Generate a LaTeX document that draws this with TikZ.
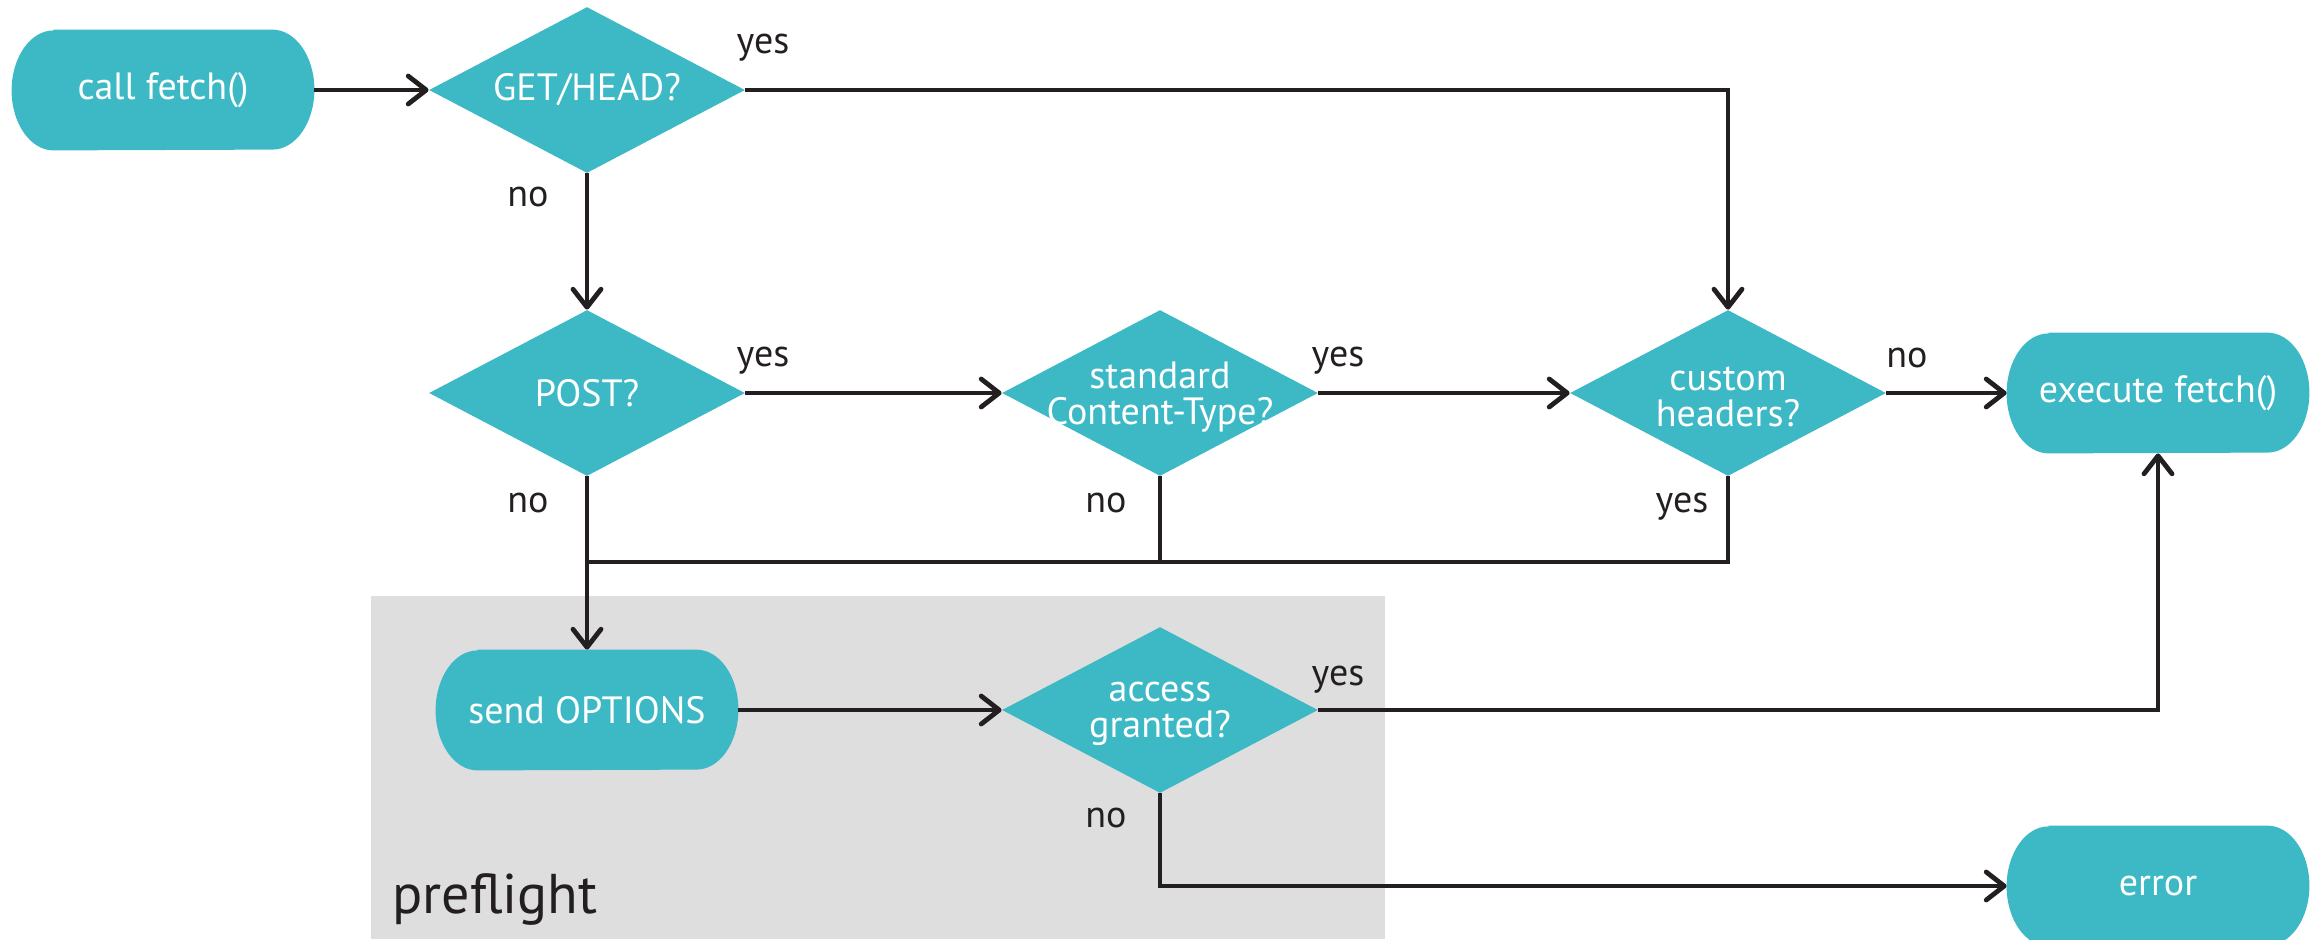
\documentclass[tikz,border=0pt]{standalone}
\usepackage{fontspec}
\setmainfont{PT Sans}
\usetikzlibrary{arrows.meta,shapes.geometric}
\definecolor{tealfill}{HTML}{3DB9C6}
\definecolor{greybg}{HTML}{DEDEDE}
\definecolor{ink}{HTML}{231F20}
\pgfdeclarelayer{bgzero}
\pgfdeclarelayer{bgone}
\pgfsetlayers{bgzero,bgone,main}
\newcommand{\termfill}[1]{%
  \begin{pgfonlayer}{bgone}
  \fill[tealfill] ([xshift=21pt]#1.north west) -- ([xshift=-21pt]#1.north east)
    arc[start angle=90,end angle=-90,x radius=21pt,y radius=30pt]
    -- ([xshift=21pt]#1.south west)
    arc[start angle=270,end angle=90,x radius=21pt,y radius=30pt] -- cycle;
  \end{pgfonlayer}}
\begin{document}
\begin{tikzpicture}[x=0.5pt,y=-0.5pt,
  term/.style={rectangle, minimum width=151pt, minimum height=60pt, inner sep=0pt,
    text=white, font=\fontsize{19}{18}\selectfont},
  dec/.style={diamond, fill=tealfill, minimum width=158pt, minimum height=83pt, inner sep=0pt},
  dtext/.style={text=white, align=center, font=\fontsize{19}{18}\selectfont, inner sep=0pt},
  lbl/.style={text=ink, font=\fontsize{19}{20}\selectfont, inner sep=0pt},
  conn/.style={draw=ink, line width=2.4pt, -{Straight Barb[length=9pt,width=14pt,round]}},
  wire/.style={draw=ink, line width=2.4pt},
]
\useasboundingbox (0,0) rectangle (2318,939);
\begin{pgfonlayer}{bgzero}
\fill[greybg] (371,596) rectangle (1385,939);
\end{pgfonlayer}

% terminals
\node[term] (cf) at (163,90) {call fetch()};
\termfill{cf}
\node[term] (ex) at (2158,393) {execute fetch()};
\termfill{ex}
\node[term] (op) at (587,710) {send OPTIONS};
\termfill{op}
\node[term] (er) at (2158,886) {error};
\termfill{er}

% decisions
\node[dec, label={[dtext]center:GET/HEAD?}] (d1) at (587,90) {};
\node[dec, label={[dtext]center:POST?}] (d2) at (587,393) {};
\node[dec, label={[dtext,yshift=-2pt]center:standard\\Content-Type?}] (d3) at (1160,393) {};
\node[dec, label={[dtext,yshift=-2pt]center:custom\\headers?}] (d4) at (1728,393) {};
\node[dec, label={[dtext,yshift=-2pt]center:access\\granted?}] (d5) at (1160,710) {};

\coordinate (j) at (587,562);

% connectors
\draw[conn] (cf.east) -- (d1.west);
\draw[conn] (d1.east) -| (d4.north);
\draw[conn] (d1.south) -- (d2.north);
\draw[conn] (d2.east) -- (d3.west);
\draw[conn] (d3.east) -- (d4.west);
\draw[conn] (d4.east) -- (ex.west);
\draw[conn] (d2.south) -- (op.north);
\draw[wire] (d3.south) -- (d3.south |- j);
\draw[wire] (d4.south) |- (j);
\draw[conn] (op.east) -- (d5.west);
\draw[conn] (d5.east) -| (ex.south);
\draw[conn] (d5.south) |- (er.west);

% labels
\node[lbl] (l1) at (763,48) {yes};
\node[lbl] (l2) at (528,197) {no};
\node[lbl] (l3) at (763,361) {yes};
\node[lbl] (l4) at (528,503) {no};
\node[lbl] (l5) at (1338,361) {yes};
\node[lbl] (l6) at (1106,503) {no};
\node[lbl] (l7) at (1907,358) {no};
\node[lbl] (l8) at (1682,507) {yes};
\node[lbl] (l9) at (1338,680) {yes};
\node[lbl] (l10) at (1106,818) {no};
\node[lbl, font=\fontsize{28}{30}\selectfont, anchor=west] (pf) at (392,899) {preflight};
\end{tikzpicture}
\end{document}
